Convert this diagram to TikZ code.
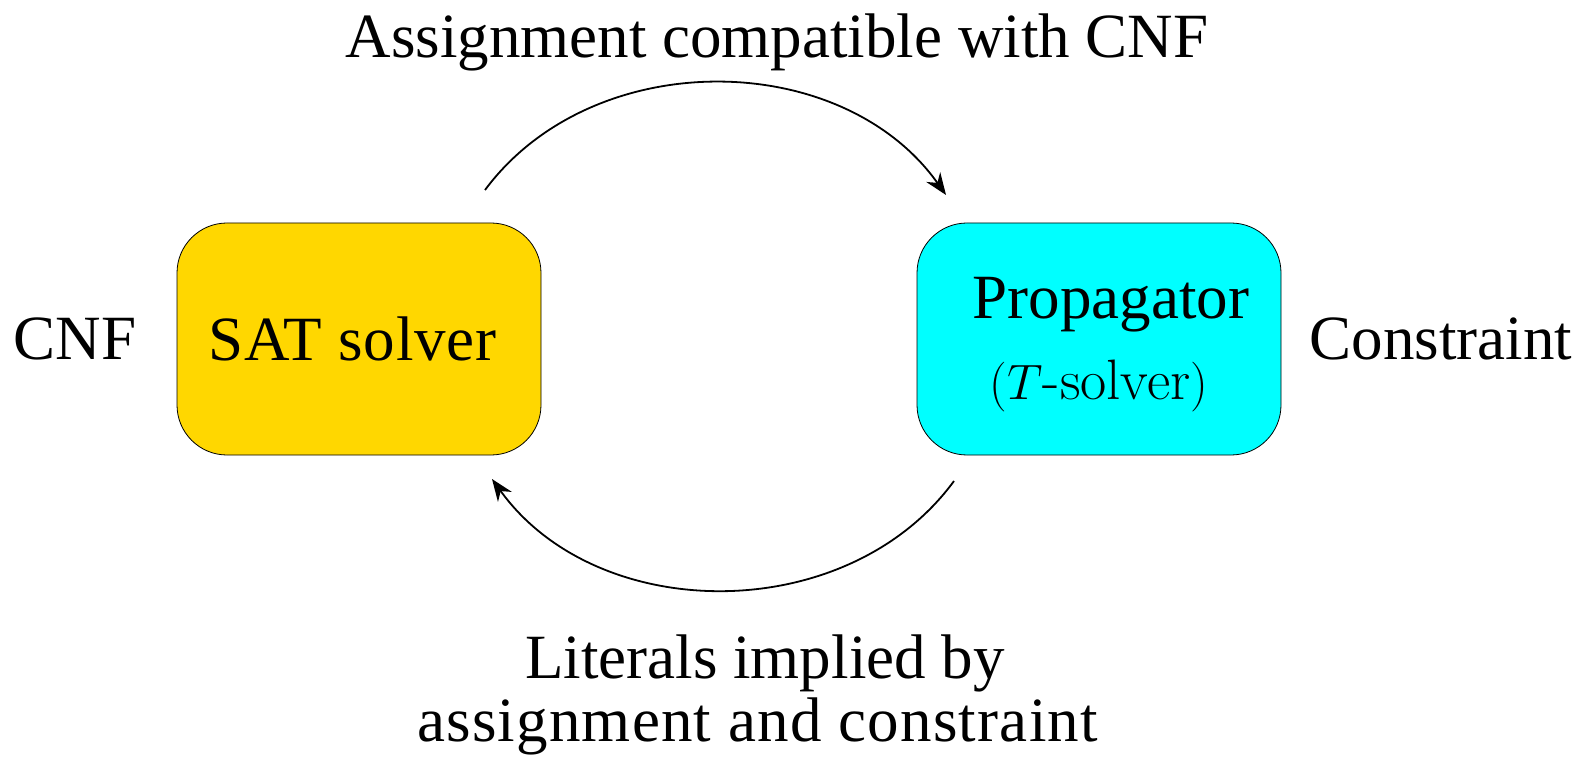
\documentclass[tikz,border=0pt]{standalone}
\usepackage{fontspec}
\setmainfont{Liberation Serif}
\usepackage{tikz}
\usetikzlibrary{arrows.meta}
\usepackage{xcolor}
\definecolor{satgold}{RGB}{255,215,0}
\definecolor{propcyan}{RGB}{0,255,255}

\begin{document}
\begin{tikzpicture}[x=0.5pt,y=0.5pt,
	font=\fontsize{31.5}{31.5}\selectfont,
	solverbox/.style={draw=black,line width=0.4pt,rounded corners=25pt,%
		minimum width=182pt,minimum height=116pt,inner sep=0pt},
	flow/.style={-{Stealth[length=11pt,width=8.5pt]},line width=0.9pt}]
	\useasboundingbox (0,0) rectangle (1582,761);
	% the two solvers
	\node[solverbox,fill=satgold] (sat) at (359,422)
		{\hspace*{-6.5pt}\addfontfeature{LetterSpace=1.2}SAT solver};
	\node[solverbox,fill=propcyan,align=center] (prop) at (1099,422)
		{\hspace*{12pt}\rule{0pt}{26pt}Propagator\\[9pt]%
		{\fontsize{28.5}{31.5}\selectfont$(T\mbox{\fontfamily{lmr}\selectfont -solver})$}};
	\node[anchor=base] (cnf) at (75,401) {CNF};
	\node[anchor=base] (constraint) at (1441,401) {Constraint};
	% messages between them
	\coordinate (topstart) at (485,571);
	\coordinate (topend) at (946,566);
	\coordinate (botstart) at (954,280);
	\coordinate (botend) at (492,282);
	\draw[flow] (topstart) to[bend left=54] (topend);
	\draw[flow] (botstart) to[bend left=54] (botend);
	\node[anchor=base] (assign) at (777,703) {Assignment compatible with CNF};
	\node[align=center] (implied) at (765,66)
		{Literals implied by\\\hspace*{-7.5pt}{\addfontfeature{LetterSpace=1.9}assignment and constraint}};
\end{tikzpicture}
\end{document}
